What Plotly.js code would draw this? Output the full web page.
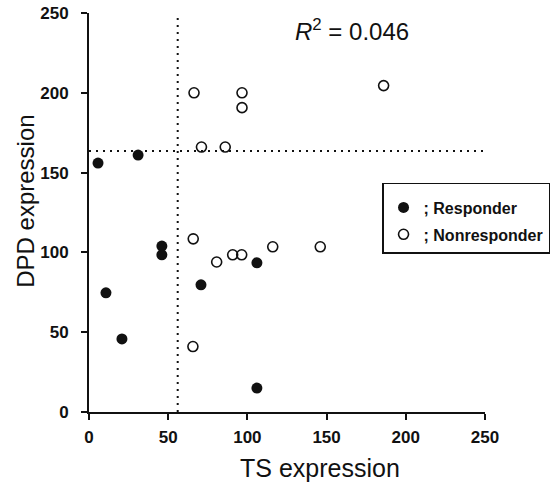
<!DOCTYPE html>
<html>
<head>
<meta charset="utf-8">
<script src="https://cdn.plot.ly/plotly-3.0.1.min.js"></script>
<style>html,body{margin:0;padding:0;background:#fff;}#chart{width:556px;height:487px;}</style>
</head>
<body>
<div id="chart"></div>
<script>
// Responders (filled circles)
const responderTS  = [5.7, 31, 10.7, 20.8, 46, 46, 70.7, 106, 106];
const responderDPD = [156, 161, 74.7, 45.8, 104, 98.5, 79.7, 93.5, 15];
// Nonresponders (open circles)
const nonresponderTS  = [66.3, 96.6, 96.6, 71, 86, 65.8, 80.6, 90.7, 96.4, 116, 65.6, 146, 186];
const nonresponderDPD = [200, 200, 190.7, 166, 166, 108.5, 94, 98.5, 98.5, 103.5, 41, 103.5, 204.5];
// Cut-off lines
const tsCutoff = 56;
const dpdCutoff = 163.5;
const axisMax = 250;
const tickVals = [0, 50, 100, 150, 200, 250];
const r2Label = '<i>R</i><sup>2</sup> = 0.046';
const xTitle = 'TS expression';
const yTitle = 'DPD expression';

const traces = [
  {x: responderTS, y: responderDPD, mode: 'markers', type: 'scatter', name: '; Responder', legendgroup: 'r',
   marker: {symbol: 'circle', size: 11, color: '#111', line: {width: 0}}},
  {x: nonresponderTS, y: nonresponderDPD, mode: 'markers', type: 'scatter', name: '; Nonresponder', legendgroup: 'n',
   marker: {symbol: 'circle-open', size: 10, color: '#111', line: {width: 1.6, color: '#111'}}}
];

const layout = {
  width: 556, height: 487,
  margin: {l: 89, r: 71, t: 13, b: 75, autoexpand: false},
  paper_bgcolor: '#fff', plot_bgcolor: '#fff',
  font: {family: 'Liberation Sans, Arial, sans-serif', color: '#111'},
  showlegend: true,
  legend: {x: 0.74, y: 0.575, xanchor: 'left', yanchor: 'top',
    bordercolor: '#111', borderwidth: 1.5, bgcolor: '#fff',
    font: {size: 16, weight: 'bold', color: '#111'}, itemwidth: 30,
    traceorder: 'grouped', tracegroupgap: 3,
    title: {text: ' ', font: {size: 5}}},
  xaxis: {range: [0, axisMax], tickvals: tickVals, showgrid: false, zeroline: false,
    showline: true, linecolor: '#111', linewidth: 2, ticks: 'outside', ticklen: 6, tickwidth: 2, tickcolor: '#111',
    tickfont: {size: 17, weight: 'bold'}, ticklabelstandoff: 3},
  yaxis: {range: [0, axisMax], tickvals: tickVals, showgrid: false, zeroline: false,
    showline: true, linecolor: '#111', linewidth: 2, ticks: 'outside', ticklen: 6, tickwidth: 2, tickcolor: '#111',
    tickfont: {size: 17, weight: 'bold'}, ticklabelstandoff: 9},
  shapes: [
    {type: 'line', xref: 'x', yref: 'y', x0: tsCutoff, x1: tsCutoff, y0: 0, y1: axisMax,
     line: {color: '#111', width: 2, dash: '2px,5px'}},
    {type: 'line', xref: 'x', yref: 'y', x0: 0, x1: axisMax, y0: dpdCutoff, y1: dpdCutoff,
     line: {color: '#111', width: 2, dash: '2px,5px'}}
  ],
  annotations: [
    {x: 166, y: 239.5, xref: 'x', yref: 'y', text: r2Label, showarrow: false,
     font: {size: 24, color: '#111'}},
    {x: 0.583, y: -0.14, xref: 'paper', yref: 'paper', xanchor: 'center', yanchor: 'middle',
     text: xTitle, showarrow: false, font: {size: 25, color: '#111'}},
    {x: -0.159, y: 0.527, xref: 'paper', yref: 'paper', xanchor: 'center', yanchor: 'middle',
     text: yTitle, textangle: -90, showarrow: false, font: {size: 24, color: '#111'}}
  ]
};

Plotly.newPlot('chart', traces, layout, {displayModeBar: false, staticPlot: true});
</script>
</body>
</html>
